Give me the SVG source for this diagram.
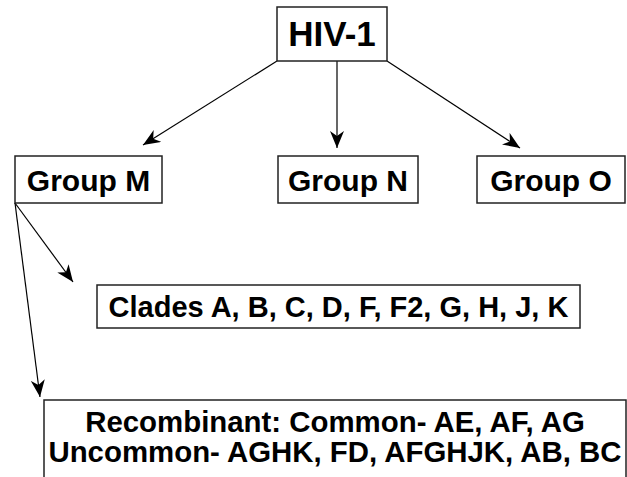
<svg xmlns="http://www.w3.org/2000/svg" width="627" height="477" viewBox="0 0 627 477">
<defs>
<marker id="ah" markerUnits="userSpaceOnUse" markerWidth="18" markerHeight="14" viewBox="0 0 18 14" refX="17" refY="7" orient="auto">
<path d="M0,0 L17,7 L0,14 L5,7 Z" fill="#000"/>
</marker>
<style>
.box{fill:#fff;stroke:#222;stroke-width:1.5}
.t{font-family:"Liberation Sans",Arial,sans-serif;font-weight:bold;fill:#000;text-anchor:middle}
.c{stroke:#000;stroke-width:1.2;fill:none;marker-end:url(#ah)}
</style>
</defs>
<rect width="627" height="477" fill="#fff"/>
<g id="connectors">
<line class="c" x1="277" y1="61" x2="143" y2="145"/>
<line class="c" x1="337" y1="61" x2="337" y2="148"/>
<line class="c" x1="387" y1="61" x2="520" y2="148"/>
<line class="c" x1="15" y1="203" x2="73" y2="282"/>
<line class="c" x1="15" y1="203" x2="40" y2="397"/>
</g>
<g id="hiv1">
<rect class="box" x="277" y="7" width="110" height="54"/>
<text class="t" x="332" y="46" font-size="35">HIV-1</text>
</g>
<g id="groupM">
<rect class="box" x="15" y="156" width="147" height="47"/>
<text class="t" x="88.5" y="191" font-size="30">Group M</text>
</g>
<g id="groupN">
<rect class="box" x="278" y="156" width="140" height="47"/>
<text class="t" x="348" y="191" font-size="30">Group N</text>
</g>
<g id="groupO">
<rect class="box" x="477" y="156" width="148" height="47"/>
<text class="t" x="551" y="191" font-size="30">Group O</text>
</g>
<g id="clades">
<rect class="box" x="97" y="285" width="483" height="43"/>
<text class="t" x="338.5" y="317" font-size="29">Clades A, B, C, D, F, F2, G, H, J, K</text>
</g>
<g id="recombinant">
<rect class="box" x="44" y="400" width="582" height="90"/>
<text class="t" x="335" y="432" font-size="29.4">Recombinant: Common- AE, AF, AG</text>
<text class="t" x="335" y="462" font-size="29.4">Uncommon- AGHK, FD, AFGHJK, AB, BC</text>
</g>
</svg>
